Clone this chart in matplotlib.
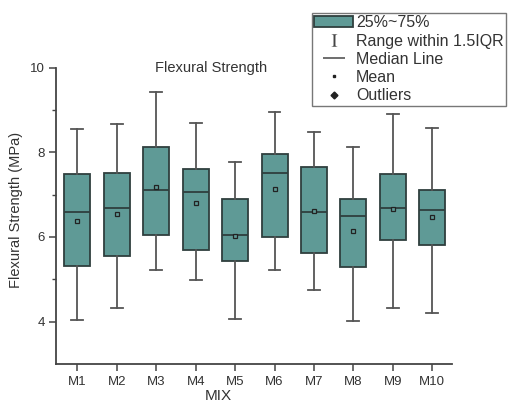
import matplotlib
matplotlib.use("Agg")
import matplotlib.pyplot as plt
from matplotlib.lines import Line2D
from matplotlib.patches import Patch

plt.rcParams["font.family"] = ["Liberation Sans", "DejaVu Sans"]
plt.rcParams["mathtext.fontset"] = "stix"

mixes = ["M1", "M2", "M3", "M4", "M5", "M6", "M7", "M8", "M9", "M10"]
whisk_lo = [4.03, 4.33, 5.22, 4.98, 4.05, 5.22, 4.75, 4.01, 4.31, 4.20]
q1       = [5.32, 5.56, 6.05, 5.69, 5.44, 6.00, 5.63, 5.28, 5.92, 5.80]
medians  = [6.60, 6.69, 7.11, 7.07, 6.05, 7.52, 6.60, 6.50, 6.69, 6.64]
q3       = [7.48, 7.51, 8.13, 7.61, 6.89, 7.96, 7.66, 6.89, 7.49, 7.10]
whisk_hi = [8.55, 8.66, 9.43, 8.69, 7.77, 8.95, 8.49, 8.12, 8.91, 8.57]
means    = [6.38, 6.54, 7.18, 6.80, 6.03, 7.13, 6.61, 6.15, 6.66, 6.46]

BOX = "#5f9a96"
EDGE = "#2f3f3e"
WHISK = "#555555"
TXT = "#333333"

stats = []
for i, m in enumerate(mixes):
    stats.append(dict(label=m, whislo=whisk_lo[i], q1=q1[i], med=medians[i],
                      q3=q3[i], whishi=whisk_hi[i], mean=means[i], fliers=[]))

fig = plt.figure(figsize=(5.09, 4.03), dpi=100)
ax = fig.add_axes([0.111, 0.097, 0.777, 0.735])

ax.bxp(stats, positions=range(1, len(mixes) + 1), widths=0.66,
       patch_artist=True, showmeans=True, showfliers=False,
       boxprops=dict(facecolor=BOX, edgecolor=EDGE, linewidth=1.3),
       medianprops=dict(color=EDGE, linewidth=1.3),
       whiskerprops=dict(color=WHISK, linewidth=1.3),
       capprops=dict(color=WHISK, linewidth=1.3),
       capwidths=0.3,
       meanprops=dict(marker="s", markersize=3, markerfacecolor=BOX,
                      markeredgecolor="#222222", markeredgewidth=0.9))

ax.set_xlim(0.47, 10.5)
ax.set_ylim(3, 10)
ax.set_yticks([4, 6, 8, 10])
ax.set_yticks([5, 7, 9], minor=True)
ax.spines["top"].set_visible(False)
ax.spines["right"].set_visible(False)
for s in ("left", "bottom"):
    ax.spines[s].set_linewidth(1.3)
    ax.spines[s].set_color("#444444")
ax.tick_params(axis="both", which="major", length=5, width=1.1, color="#444444",
               labelsize=9.5, labelcolor=TXT)
ax.tick_params(axis="y", which="minor", length=3, width=1.0, color="#444444")

ax.set_xlabel("MIX", fontsize=11, color=TXT)
ax.xaxis.set_label_coords(0.41, -0.085)
ax.set_ylabel("Flexural Strength (MPa)", fontsize=10.5, color=TXT)
ax.yaxis.set_label_coords(-0.085, 0.52)
ax.text(0.39, 1.0, "Flexural Strength", transform=ax.transAxes,
        fontsize=10.5, color=TXT, ha="center", va="center")

handles = [
    Patch(facecolor=BOX, edgecolor=EDGE, linewidth=1.3),
    Line2D([], [], linestyle="none", marker=r"$\mathrm{I}$", markersize=9,
           markeredgewidth=0, color="#444444"),
    Line2D([], [], linestyle="none", marker="_", markersize=16,
           markeredgewidth=1.2, color="#555555"),
    Line2D([], [], linestyle="none", marker="s", markersize=1.8, color="#222222"),
    Line2D([], [], linestyle="none", marker="D", markersize=3.5, color="#222222"),
]
labels = ["25%~75%", "Range within 1.5IQR", "Median Line", "Mean", "Outliers"]
leg = fig.legend(handles, labels, loc="upper right",
                 bbox_to_anchor=(506 / 509, 1 - 13 / 403),
                 fontsize=11.5, frameon=True, fancybox=False, borderpad=0.15,
                 labelspacing=0.2, handlelength=2.4, handletextpad=0.2,
                 borderaxespad=0)
leg.get_frame().set_edgecolor("#555555")
leg.get_frame().set_linewidth(1.0)
for t in leg.get_texts():
    t.set_color(TXT)

fig.savefig("out.png", dpi=100)
